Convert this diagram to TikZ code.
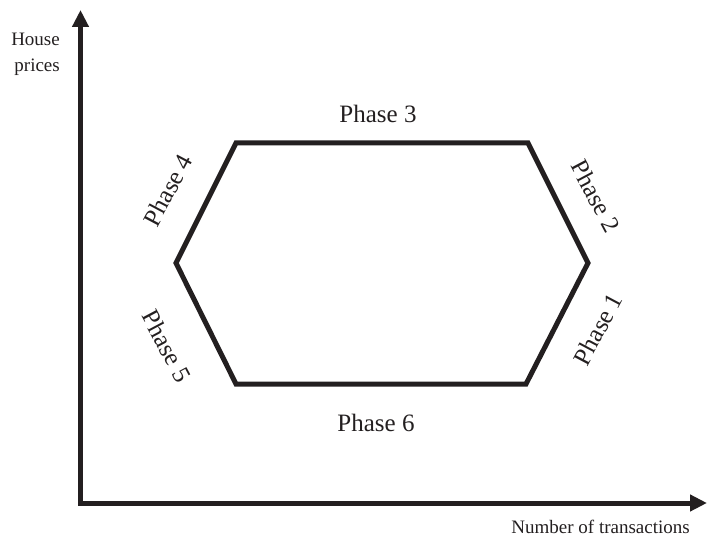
\documentclass[tikz,border=0pt]{standalone}
\usepackage{fontspec}
\setmainfont{Liberation Serif}
\usetikzlibrary{arrows.meta}
\definecolor{ink}{HTML}{231F20}
\tikzset{
  axisline/.style={draw=ink, line width=5pt, miter limit=10, {Triangle[length=17pt,width=16pt]}-{Triangle[length=17pt,width=16pt]}},
  hexline/.style={draw=ink, line width=5pt, line join=miter},
  phaselabel/.style={text=ink, font=\fontsize{25}{27}\selectfont, inner sep=0pt},
  axislabel/.style={text=ink, font=\fontsize{19}{26}\selectfont, inner sep=0pt}
}
\begin{document}
\begin{tikzpicture}[x=1pt,y=-1pt]
\useasboundingbox (0,0) rectangle (707,537);
\coordinate (ytop) at (80.5,10);
\coordinate (origin) at (80.5,503);
\coordinate (xend) at (707,503);
\draw[axisline] (ytop) -- (origin) -- (xend);
\coordinate (A) at (236,143);
\coordinate (B) at (528,143);
\coordinate (C) at (588,263);
\coordinate (D) at (526,384);
\coordinate (E) at (236,384);
\coordinate (F) at (176,263);
\draw[hexline] (A) -- (B) -- (C) -- (D) -- (E) -- (F) -- cycle;
\node[phaselabel] (p3) at (378,114) {Phase 3};
\node[phaselabel] (p6) at (376,423) {Phase 6};
\node[phaselabel, rotate=62] (p4) at (168,190) {Phase 4};
\node[phaselabel, rotate=-62] (p2) at (596,196) {Phase 2};
\node[phaselabel, rotate=62] (p1) at (598,329) {Phase 1};
\node[phaselabel, rotate=-62] (p5) at (167,346) {Phase 5};
\node[axislabel, align=right, anchor=north east] (yl) at (60,33) {House\\prices};
\node[axislabel, anchor=east] (xl) at (690,527) {Number of transactions};
\end{tikzpicture}
\end{document}
